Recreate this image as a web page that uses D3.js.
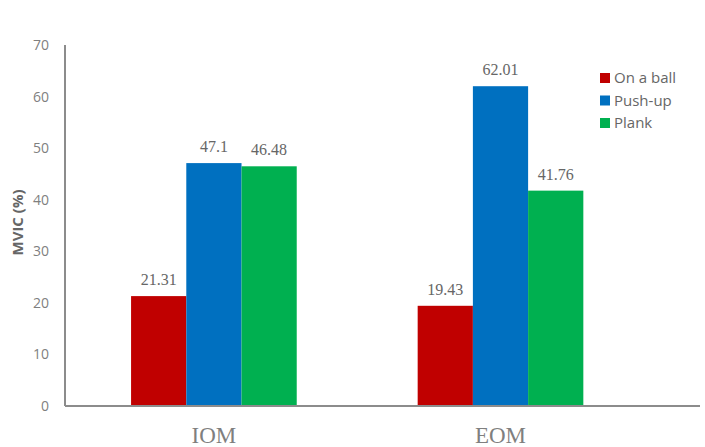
<!DOCTYPE html>
<html>
<head>
<meta charset="utf-8">
<script src="https://cdn.jsdelivr.net/npm/d3@7"></script>
<style>
  body { margin: 0; background: #fff; }
  svg { display: block; }
</style>
</head>
<body>
<div id="chart"></div>
<script>
const categories = ["IOM", "EOM"];
const seriesNames = ["On a ball", "Push-up", "Plank"];
const onABall = [21.31, 19.43];
const pushUp = [47.1, 62.01];
const plank = [46.48, 41.76];
const yTicks = [0, 10, 20, 30, 40, 50, 60, 70];
const colors = ["#C00000", "#0070C0", "#00B050"];

const seriesValues = [onABall, pushUp, plank];
const rows = [];
categories.forEach((c, i) => {
  seriesNames.forEach((s, j) => {
    rows.push({ cat: c, series: s, value: seriesValues[j][i] });
  });
});

const width = 705;
const height = 447;
const axisLeft = 65;
const axisRight = 700;

const svg = d3.select("#chart")
  .append("svg")
  .attr("width", width)
  .attr("height", height);

const y = d3.scaleLinear()
  .domain([0, 70])
  .range([406, 45]);

const x0 = d3.scaleBand()
  .domain(categories)
  .range([70.6, 643.8])
  .padding(0);

const x1 = d3.scaleBand()
  .domain(seriesNames)
  .range([0, x0.bandwidth()])
  .paddingInner(0)
  .paddingOuter(1.095);

const color = d3.scaleOrdinal().domain(seriesNames).range(colors);

// y axis
const yAxis = svg.append("g")
  .attr("transform", `translate(${axisLeft},0)`)
  .call(d3.axisLeft(y).tickValues(yTicks).tickSize(0).tickPadding(16))
  .call((g) => g.select(".domain").remove());

yAxis.selectAll("text")
  .attr("fill", "#7f7f7f")
  .style("font-family", "'Open Sans', 'Noto Sans', sans-serif")
  .style("font-size", "14px");

svg.append("line")
  .attr("x1", axisLeft).attr("x2", axisLeft)
  .attr("y1", y(70)).attr("y2", y(0))
  .attr("stroke", "#8c8c8c")
  .attr("stroke-width", 2);

// bars
svg.append("g")
  .selectAll("rect")
  .data(rows)
  .join("rect")
  .attr("x", (d) => x0(d.cat) + x1(d.series))
  .attr("y", (d) => y(d.value))
  .attr("width", x1.bandwidth())
  .attr("height", (d) => y(0) - y(d.value))
  .attr("fill", (d) => color(d.series));

// value labels
svg.append("g")
  .selectAll("text")
  .data(rows)
  .join("text")
  .attr("x", (d) => x0(d.cat) + x1(d.series) + x1.bandwidth() / 2)
  .attr("y", (d) => y(d.value) - 11)
  .attr("text-anchor", "middle")
  .attr("fill", "#666")
  .style("font-family", "'Liberation Serif', 'DejaVu Serif', serif")
  .style("font-size", "16px")
  .text((d) => d.value);

// x axis line
svg.append("line")
  .attr("x1", axisLeft).attr("x2", axisRight)
  .attr("y1", y(0)).attr("y2", y(0))
  .attr("stroke", "#8c8c8c")
  .attr("stroke-width", 2);

// category labels
svg.append("g")
  .selectAll("text")
  .data(categories)
  .join("text")
  .attr("x", (d) => x0(d) + x0.bandwidth() / 2)
  .attr("y", 443)
  .attr("text-anchor", "middle")
  .attr("fill", "#7f7f7f")
  .style("font-family", "'Liberation Serif', 'DejaVu Serif', serif")
  .style("font-size", "23px")
  .text((d) => d);

// y axis title
svg.append("text")
  .attr("transform", `translate(23,${y(35) - 3}) rotate(-90)`)
  .attr("text-anchor", "middle")
  .attr("fill", "#666")
  .style("font-family", "'Open Sans', 'Noto Sans', sans-serif")
  .style("font-size", "15px")
  .style("font-weight", "bold")
  .text("MVIC (%)");

// legend
const legend = svg.append("g")
  .selectAll("g")
  .data(seriesNames)
  .join("g")
  .attr("transform", (d, i) => `translate(600,${78 + i * 22.5})`);

legend.append("rect")
  .attr("x", 0)
  .attr("y", -5)
  .attr("width", 10)
  .attr("height", 10)
  .attr("fill", (d) => color(d));

legend.append("text")
  .attr("x", 14)
  .attr("y", 0)
  .attr("dy", "0.35em")
  .attr("fill", "#666")
  .style("font-family", "'Open Sans', 'Noto Sans', sans-serif")
  .style("font-size", "15px")
  .text((d) => d);
</script>
</body>
</html>
